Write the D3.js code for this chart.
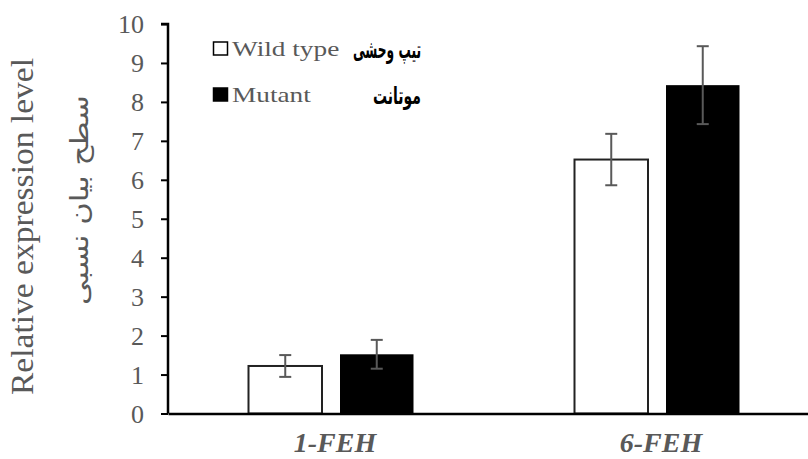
<!DOCTYPE html>
<html>
<head>
<meta charset="utf-8">
<script src="https://cdn.jsdelivr.net/npm/d3@7"></script>
<style>
  html, body { margin: 0; padding: 0; background: #fff; }
  svg { display: block; }
</style>
</head>
<body>
<svg id="chart" width="808" height="459"></svg>
<script>
// ---- data ----
const categories = ["1-FEH", "6-FEH"];
const seriesNames = ["Wild type", "Mutant"];
const seriesNamesFa = ["تیپ وحشی", "موتانت"];
const wildTypeValues = [1.22, 6.52];
const wildTypeErrors = [0.28, 0.66];
const mutantValues = [1.52, 8.43];
const mutantErrors = [0.37, 1.0];
const yTicks = [0, 1, 2, 3, 4, 5, 6, 7, 8, 9, 10];
const yTitle = "Relative expression level";
const yTitleFa = "سطح بیان نسبی";

const table = categories.map((c, i) => ({
  category: c,
  values: [
    { series: seriesNames[0], value: wildTypeValues[i], err: wildTypeErrors[i] },
    { series: seriesNames[1], value: mutantValues[i], err: mutantErrors[i] }
  ]
}));

const svg = d3.select("#chart");
const serif = "'Liberation Serif', 'Times New Roman', serif";
const gray = "#595959";

const y = d3.scaleLinear().domain([0, 10]).range([413.5, 24]);
const x0 = d3.scaleBand().domain(categories).range([168, 820]);
const x1 = d3.scaleBand().domain(seriesNames).range([-82.5, 82.5]).paddingInner(18 / 91.5);
const fill = d3.scaleOrdinal().domain(seriesNames).range(["#ffffff", "#000000"]);

// bars
const groups = svg.append("g").selectAll("g").data(table).join("g")
  .attr("transform", d => `translate(${x0(d.category) + x0.bandwidth() / 2},0)`);

groups.selectAll("rect").data(d => d.values).join("rect")
  .attr("x", d => x1(d.series))
  .attr("y", d => y(d.value))
  .attr("width", x1.bandwidth())
  .attr("height", d => y(0) - y(d.value))
  .attr("fill", d => fill(d.series))
  .attr("stroke", d => d.series === seriesNames[0] ? "#222" : "none")
  .attr("stroke-width", 2);

// error bars
const eb = groups.selectAll("g.err").data(d => d.values).join("g").attr("class", "err")
  .attr("stroke", gray).attr("stroke-width", 2);
eb.append("line")
  .attr("x1", d => x1(d.series) + x1.bandwidth() / 2)
  .attr("x2", d => x1(d.series) + x1.bandwidth() / 2)
  .attr("y1", d => y(d.value - d.err))
  .attr("y2", d => y(d.value + d.err));
[1, -1].forEach(s => {
  eb.append("line")
    .attr("x1", d => x1(d.series) + x1.bandwidth() / 2 - 6)
    .attr("x2", d => x1(d.series) + x1.bandwidth() / 2 + 6)
    .attr("y1", d => y(d.value + s * d.err))
    .attr("y2", d => y(d.value + s * d.err));
});

// y axis
const yAxis = svg.append("g").attr("transform", "translate(168,0)")
  .call(d3.axisLeft(y).tickValues(yTicks).tickSize(7).tickPadding(17).tickFormat(d3.format("d")));
yAxis.select(".domain").attr("stroke", "#000").attr("stroke-width", 2.5)
  .attr("d", `M-7,${y(10)}H0V${y(0)}`);
yAxis.selectAll(".tick line").attr("stroke", "#000").attr("stroke-width", 2);
yAxis.selectAll(".tick text").attr("font-family", serif).attr("font-size", 26)
  .attr("fill", gray).attr("dy", "0.33em");

// x axis
const xAxis = svg.append("g").attr("transform", `translate(0,${y(0)})`)
  .call(d3.axisBottom(x0).tickSize(0).tickPadding(0));
xAxis.select(".domain").attr("stroke", "#000").attr("stroke-width", 2.5);
xAxis.selectAll(".tick text")
  .attr("font-family", serif).attr("font-size", 28).attr("font-weight", "bold")
  .attr("font-style", "italic").attr("fill", gray)
  .attr("dy", 0).attr("y", 452 - y(0)).attr("dx", 4);

// y titles
svg.append("text")
  .attr("transform", "translate(33,226.5) rotate(-90)")
  .attr("text-anchor", "middle")
  .attr("font-family", serif).attr("font-size", 31).attr("fill", gray)
  .attr("textLength", 337).attr("lengthAdjust", "spacingAndGlyphs")
  .text(yTitle);
svg.append("text")
  .attr("transform", "translate(88,200) rotate(-90)")
  .attr("text-anchor", "middle").attr("direction", "rtl")
  .attr("font-family", "'DejaVu Sans', sans-serif").attr("font-size", 25).attr("fill", gray)
  .attr("textLength", 210).attr("lengthAdjust", "spacingAndGlyphs")
  .text(yTitleFa);

// legend
const legendRows = [
  { name: seriesNames[0], fa: seriesNamesFa[0], top: 42, faLen: 68 },
  { name: seriesNames[1], fa: seriesNamesFa[1], top: 88, faLen: 48 }
];
const lg = svg.append("g").selectAll("g").data(legendRows).join("g");
lg.append("rect")
  .attr("x", 213.5).attr("y", d => d.top).attr("width", 14).attr("height", 13)
  .attr("fill", d => fill(d.name)).attr("stroke", "#000").attr("stroke-width", 1.5);
lg.append("text")
  .attr("transform", d => `translate(232,${d.top + 13.5}) scale(1.3,1)`)
  .attr("font-family", serif).attr("font-size", 21).attr("fill", gray)
  .text(d => d.name);
lg.append("text")
  .attr("x", d => 421 - d.faLen).attr("y", d => d.top + 16)
  .attr("font-family", "'DejaVu Sans', sans-serif").attr("font-size", 24).attr("font-weight", "bold")
  .attr("fill", "#000")
  .attr("textLength", d => d.faLen).attr("lengthAdjust", "spacingAndGlyphs")
  .text(d => d.fa);
</script>
</body>
</html>
